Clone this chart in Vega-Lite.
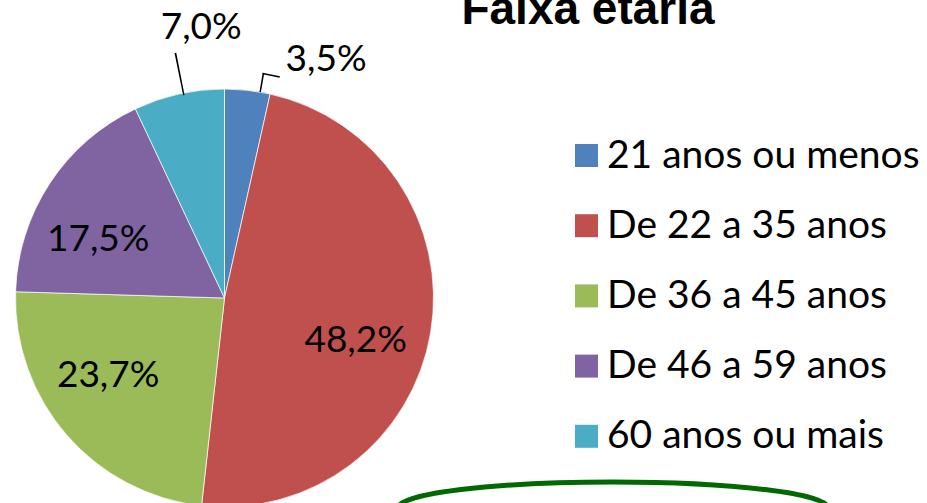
{
  "$schema": "https://vega.github.io/schema/vega-lite/v6.json",
  "width": 927,
  "height": 503,
  "autosize": "none",
  "padding": 0,
  "background": "white",
  "config": {"view": {"stroke": null}},
  "title": {
    "text": "Faixa etária",
    "font": "Liberation Sans",
    "fontSize": 46,
    "fontWeight": "bold",
    "color": "#000000",
    "anchor": "start",
    "frame": "group",
    "orient": "top",
    "align": "center",
    "baseline": "alphabetic",
    "offset": 0,
    "dx": 588,
    "dy": 70
  },
  "data": {
    "values": [
      {"faixa": "21 anos ou menos", "pct": 3.5, "rotulo": "3,5%", "ordem": 1},
      {"faixa": "De 22 a 35 anos", "pct": 48.2, "rotulo": "48,2%", "ordem": 2},
      {"faixa": "De 36 a 45 anos", "pct": 23.7, "rotulo": "23,7%", "ordem": 3},
      {"faixa": "De 46 a 59 anos", "pct": 17.5, "rotulo": "17,5%", "ordem": 4},
      {"faixa": "60 anos ou mais", "pct": 7.0, "rotulo": "7,0%", "ordem": 5}
    ]
  },
  "transform": [
    {"stack": "pct", "groupby": [], "sort": [{"field": "ordem", "order": "ascending"}], "as": ["ini", "fim"]}
  ],
  "layer": [
    {
      "mark": {"type": "arc", "x": 224.5, "y": 298, "outerRadius": 209, "stroke": "#ffffff", "strokeWidth": 0.7},
      "encoding": {
        "theta": {"field": "ini", "type": "quantitative", "scale": {"domain": [0, 99.9], "range": [0, 6.283185307179586]}},
        "theta2": {"field": "fim"},
        "color": {
          "field": "faixa",
          "type": "nominal",
          "sort": null,
          "scale": {
            "domain": ["21 anos ou menos", "De 22 a 35 anos", "De 36 a 45 anos", "De 46 a 59 anos", "60 anos ou mais"],
            "range": ["#4F81BD", "#C0504D", "#9BBB59", "#8064A2", "#4BACC6"]
          },
          "legend": {
            "title": null,
            "orient": "none",
            "legendX": 567,
            "legendY": 136,
            "symbolType": "square",
            "symbolSize": 529,
            "symbolStrokeWidth": 0,
            "labelFont": "Lato",
            "labelFontSize": 39,
            "labelColor": "#000000",
            "labelOffset": 1,
            "rowPadding": 30.2,
            "padding": 0,
            "labelLimit": 400
          }
        }
      }
    },
    {
      "transform": [{"filter": "datum.ordem == 1"}],
      "mark": {"type": "arc", "x": 224.5, "y": 298, "innerRadius": 209, "outerRadius": 228.5, "thetaOffset": 0.168, "theta2Offset": 0.175, "fill": "#000000"},
      "encoding": {"theta": {"field": "ini", "type": "quantitative"}, "theta2": {"field": "ini"}}
    },
    {
      "transform": [{"filter": "datum.ordem == 1"}],
      "mark": {"type": "arc", "x": 224.5, "y": 298, "innerRadius": 227, "outerRadius": 228.5, "thetaOffset": 0.168, "theta2Offset": 0.245, "fill": "#000000"},
      "encoding": {"theta": {"field": "ini", "type": "quantitative"}, "theta2": {"field": "ini"}}
    },
    {
      "transform": [{"filter": "datum.ordem == 5"}],
      "mark": {"type": "arc", "x": 224.5, "y": 298, "innerRadius": 207, "outerRadius": 250, "thetaOffset": 0.239, "theta2Offset": 0.246, "fill": "#000000"},
      "encoding": {"theta": {"field": "ini", "type": "quantitative"}, "theta2": {"field": "ini"}}
    },
    {
      "transform": [{"filter": "datum.ordem == 1"}],
      "mark": {"type": "text", "x": 224.5, "y": 298, "radius": 259, "thetaOffset": 0.403, "font": "Lato", "fontSize": 37, "align": "center", "baseline": "middle", "color": "#000000"},
      "encoding": {"theta": {"field": "ini", "type": "quantitative"}, "text": {"field": "rotulo"}}
    },
    {
      "transform": [{"filter": "datum.ordem == 2"}],
      "mark": {"type": "text", "x": 224.5, "y": 298, "radius": 138, "thetaOffset": 1.667, "font": "Lato", "fontSize": 37, "align": "center", "baseline": "middle", "color": "#000000"},
      "encoding": {"theta": {"field": "ini", "type": "quantitative"}, "text": {"field": "rotulo"}}
    },
    {
      "transform": [{"filter": "datum.ordem == 3"}],
      "mark": {"type": "text", "x": 224.5, "y": 298, "radius": 140, "thetaOffset": 0.871, "font": "Lato", "fontSize": 37, "align": "center", "baseline": "middle", "color": "#000000"},
      "encoding": {"theta": {"field": "ini", "type": "quantitative"}, "text": {"field": "rotulo"}}
    },
    {
      "transform": [{"filter": "datum.ordem == 4"}],
      "mark": {"type": "text", "x": 224.5, "y": 298, "radius": 139, "thetaOffset": 0.401, "font": "Lato", "fontSize": 37, "align": "center", "baseline": "middle", "color": "#000000"},
      "encoding": {"theta": {"field": "ini", "type": "quantitative"}, "text": {"field": "rotulo"}}
    },
    {
      "transform": [{"filter": "datum.ordem == 5"}],
      "mark": {"type": "text", "x": 224.5, "y": 298, "radius": 271, "thetaOffset": 0.354, "font": "Lato", "fontSize": 37, "align": "center", "baseline": "middle", "color": "#000000"},
      "encoding": {"theta": {"field": "ini", "type": "quantitative"}, "text": {"field": "rotulo"}}
    },
    {
      "data": {"values": [{"anotacao": "destaque"}]},
      "mark": {
        "type": "point",
        "x": 613,
        "y": 508,
        "shape": "M-1,0A1,0.121,0,1,1,1,0A1,0.121,0,1,1,-1,0Z",
        "size": 184900,
        "filled": false,
        "stroke": "#006A00",
        "strokeWidth": 5,
        "opacity": 1
      },
      "encoding": {}
    }
  ]
}
